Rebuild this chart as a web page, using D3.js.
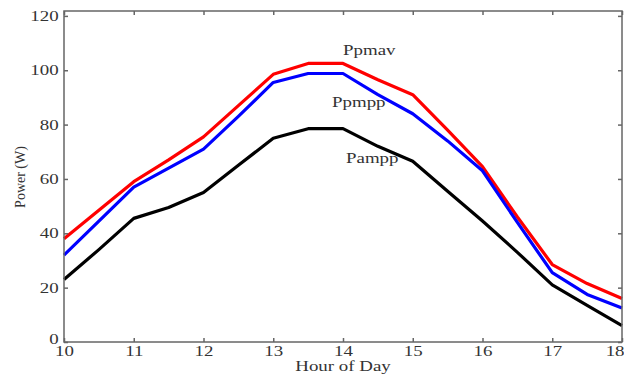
<!DOCTYPE html>
<html>
<head>
<meta charset="utf-8">
<script src="https://cdn.jsdelivr.net/npm/d3@7"></script>
<style>
  body { margin: 0; background: #fff; }
  text { font-family: "Liberation Serif", "DejaVu Serif", serif; fill: #333; }
</style>
</head>
<body>
<script>
const width = 624;
const height = 380;

// hours, sampled every half hour
const hours = [10, 10.5, 11, 11.5, 12, 12.5, 13, 13.5, 14, 14.5, 15, 15.5, 16, 16.5, 17, 17.5, 18];
const ppmav = [38, 48.5, 59, 67, 75.5, 87, 98.5, 102.5, 102.5, 96.5, 91, 78, 64.5, 46, 28.5, 21.5, 16];
const ppmpp = [32, 44.5, 57, 64, 71, 83, 95.5, 98.8, 98.8, 91, 84, 74, 63, 44, 25.5, 17.5, 12.5];
const pampp = [23, 34, 45.5, 49.5, 55, 65, 75, 78.5, 78.5, 72, 66.5, 55.5, 44.5, 33, 21, 13.5, 6];

const xTicks = [10, 11, 12, 13, 14, 15, 16, 17, 18];
const yTicks = [0, 20, 40, 60, 80, 100, 120];

const series = [
  { name: 'Ppmav', values: ppmav, color: '#ff0000', lx: 14, ly: 105.6, dx: 0 },
  { name: 'Ppmpp', values: ppmpp, color: '#0000ff', lx: 14, ly: 86.5, dx: -11 },
  { name: 'Pampp', values: pampp, color: '#000000', lx: 14, ly: 65.9, dx: 3 }
];

const stretch = 1.35; // text in the figure is widened

const svg = d3.select('body').append('svg')
    .attr('width', width)
    .attr('height', height);

const x = d3.scaleLinear().domain([10, 18]).range([64, 622]);
const y = d3.scaleLinear().domain([0, 121.8]).range([342, 11]);

// lines
const line = d3.line()
    .x((d, i) => x(hours[i]))
    .y(d => y(d));

svg.selectAll('path.series')
    .data(series)
    .enter()
    .append('path')
    .attr('class', 'series')
    .attr('d', d => line(d.values))
    .attr('fill', 'none')
    .attr('stroke', d => d.color)
    .attr('stroke-width', 3.2)
    .attr('stroke-linejoin', 'round');

// box
const axisColor = '#666';
svg.append('rect')
    .attr('x', x(10))
    .attr('y', y(121.8))
    .attr('width', x(18) - x(10))
    .attr('height', y(0) - y(121.8))
    .attr('fill', 'none')
    .attr('stroke', axisColor)
    .attr('stroke-width', 1.5);

// x axis (bottom + mirrored ticks at top)
svg.append('g')
    .attr('class', 'xaxis')
    .attr('transform', `translate(0,${y(0)})`)
    .call(d3.axisBottom(x).tickValues(xTicks).tickSize(-4).tickPadding(4).tickFormat(d3.format('d')));
svg.append('g')
    .attr('transform', `translate(0,${y(121.8)})`)
    .call(d3.axisTop(x).tickValues(xTicks).tickSize(-4).tickFormat(''));

// y axis (left + mirrored ticks at right)
svg.append('g')
    .attr('class', 'yaxis')
    .attr('transform', `translate(${x(10)},0)`)
    .call(d3.axisLeft(y).tickValues(yTicks).tickSize(-4).tickPadding(4));
svg.append('g')
    .attr('transform', `translate(${x(18)},0)`)
    .call(d3.axisRight(y).tickValues(yTicks).tickSize(-4).tickFormat(''));

svg.selectAll('.domain').remove();
svg.selectAll('.tick line').attr('stroke', axisColor).attr('stroke-width', 1.5);
svg.selectAll('.tick text')
    .style('font-family', '"Liberation Serif", serif')
    .style('font-size', '14px')
    .attr('fill', '#333')
    .attr('transform', `scale(${stretch},1)`);
// last x label sits at the right edge, pull it inside
svg.selectAll('.xaxis .tick text')
    .filter(d => d === 18)
    .attr('text-anchor', 'end')
    .attr('dx', 1.5);
// "0" sits just above the "10" label
svg.selectAll('.yaxis .tick text')
    .filter(d => d === 0)
    .attr('dy', '0.1em');

// series labels
svg.selectAll('text.label')
    .data(series)
    .enter()
    .append('text')
    .attr('class', 'label')
    .attr('transform', d => `translate(${x(d.lx) + d.dx},${y(d.ly)}) scale(${stretch},1)`)
    .attr('font-size', 14)
    .text(d => d.name);

// axis titles
svg.append('text')
    .attr('transform', `translate(${(x(10) + x(18)) / 2},371) scale(${stretch},1)`)
    .attr('text-anchor', 'middle')
    .attr('font-size', 14)
    .text('Hour of Day');

svg.append('text')
    .attr('transform', `translate(25,177) rotate(-90)`)
    .attr('text-anchor', 'middle')
    .attr('font-size', 14)
    .text('Power (W)');
</script>
</body>
</html>
